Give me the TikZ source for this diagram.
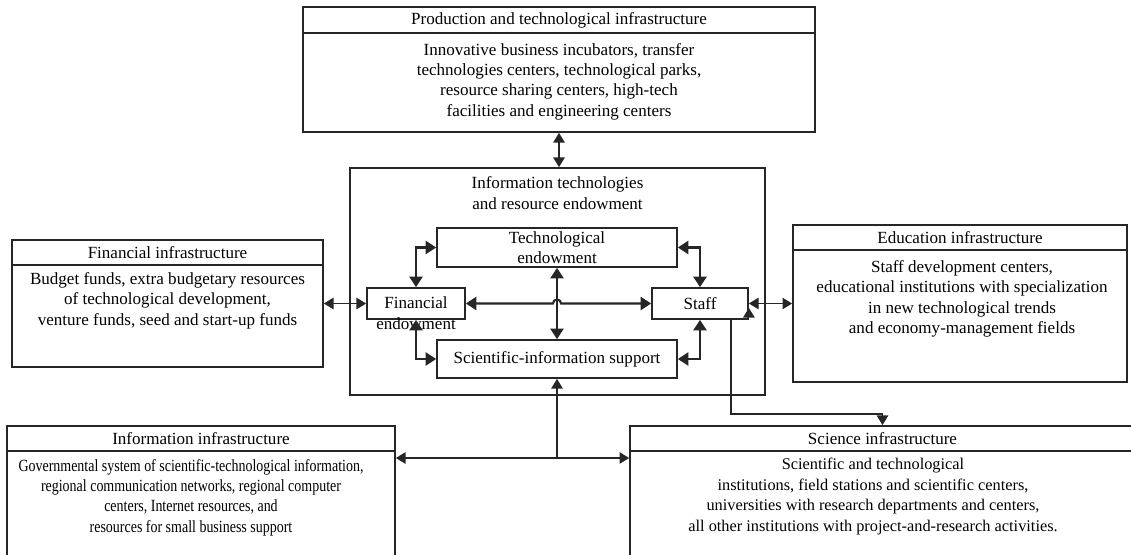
\documentclass[tikz,border=0pt]{standalone}
\usepackage{fontspec}
\setmainfont{Liberation Serif}
\newfontfamily\narrowserif[FakeStretch=0.82]{Liberation Serif}
\usetikzlibrary{arrows.meta}

\begin{document}
\begin{tikzpicture}[x=0.02cm,y=-0.02cm,
    box/.style={draw=black!85,line width=1pt,inner sep=0pt},
    txt/.style={align=center,font=\fontsize{9.7}{11.6}\selectfont},
    sci/.style={align=center,font=\fontsize{9.3}{11.6}\selectfont},
    narrow/.style={align=center,font=\fontsize{9.7}{11.6}\narrowserif},
    link/.style={black!85,line width=0.7pt,{Triangle[length=5.5pt,width=6.5pt]}-{Triangle[length=5.5pt,width=6.5pt]}},
    inlink/.style={black!85,line width=1.2pt,{Triangle[length=6pt,width=7.5pt]}-{Triangle[length=6pt,width=7.5pt]}},
    tolink/.style={black!85,line width=0.7pt,-{Triangle[length=5.5pt,width=6.5pt]}}]
  \useasboundingbox (0,0) rectangle (1131,554);
  % production infrastructure
  \node[box,txt,minimum width=10.24cm,minimum height=0.52cm] (prodt) at (559,20) {Production and technological infrastructure};
  \node[box,minimum width=10.24cm,minimum height=1.98cm] (prodb) at (559,82.5) {};
  \node[txt] (prodx) at (559,81.5) {Innovative business incubators, transfer\\technologies centers, technological parks,\\resource sharing centers, high-tech\\facilities and engineering centers};
  % information technologies and resource endowment
  \node[box,minimum width=8.3cm,minimum height=4.54cm] (itre) at (557.5,281.5) {};
  \node[txt] (itrex) at (557.5,193) {Information technologies\\and resource endowment};
  \node[box,txt,minimum width=4.8cm,minimum height=0.78cm] (tech) at (557,247.5) {Technological\\endowment};
  \node[box,minimum width=1.96cm,minimum height=0.62cm] (fin) at (416,303.5) {};
  \node[txt] (finx) at (416,313) {Financial\\endowment};
  \node[box,txt,minimum width=1.92cm,minimum height=0.62cm] (staff) at (700,303.5) {Staff};
  \node[box,txt,minimum width=4.8cm,minimum height=0.76cm] (scis) at (557,359) {Scientific-information support};
  % financial infrastructure
  \node[box,txt,minimum width=6.22cm,minimum height=0.5cm] (fint) at (167.5,252.5) {Financial infrastructure};
  \node[box,minimum width=6.22cm,minimum height=2.04cm] (finb) at (167.5,316) {};
  \node[txt] (finbx) at (167.5,300.5) {Budget funds, extra budgetary resources\\of technological development,\\venture funds, seed and start-up funds};
  % education infrastructure
  \node[box,txt,minimum width=6.68cm,minimum height=0.5cm] (edut) at (960,237.5) {Education infrastructure};
  \node[box,minimum width=6.68cm,minimum height=2.64cm] (edub) at (960,316) {};
  \node[txt] (edux) at (962,299) {Staff development centers,\\educational institutions with specialization\\in new technological trends\\and economy-management fields};
  % information infrastructure
  \node[box,txt,minimum width=7.76cm,minimum height=0.5cm] (infot) at (201,438.5) {Information infrastructure};
  \node[box,minimum width=7.76cm,minimum height=2.14cm] (infob) at (201,504.5) {};
  \node[narrow] (infox) at (191,497.5) {Governmental system of scientific-technological information,\\regional communication networks, regional computer\\centers, Internet resources, and\\resources for small business support};
  % science infrastructure
  \node[box,txt,minimum width=10.1cm,minimum height=0.5cm] (scit) at (882.5,438.5) {Science infrastructure};
  \node[box,minimum width=10.1cm,minimum height=2.14cm] (scib) at (882.5,504.5) {};
  \node[sci] (scix) at (873,496.5) {Scientific and technological\\institutions, field stations and scientific centers,\\universities with research departments and centers,\\all other institutions with project-and-research activities.};
  % links
  \draw[link] (prodb.south) -- (prodb.south |- itre.north);
  \draw[link] (fin.west -| finb.east) -- (fin.west);
  \draw[link] (staff.east) -- (staff.east -| edub.west);
  \draw[inlink] (fin.north) |- (tech.west);
  \draw[inlink] (fin.south) |- (scis.west);
  \draw[inlink] (tech.east) -| (staff.north);
  \draw[inlink] (scis.east) -| (staff.south);
  \draw[inlink] (tech.south) -- (scis.north);
  \coordinate (hop) at (tech.south |- fin.east);
  \draw[inlink] (fin.east) -- ([xshift=-2.3pt]hop) arc[start angle=180,end angle=0,radius=2.3pt] -- (staff.west);
  \coordinate (joint) at (scis.south |- 0,458);
  \draw[tolink] (joint) -- (scis.south);
  \draw[link] (joint -| infob.east) -- (joint -| scib.west);
  \coordinate (sfoot) at ([xshift=0.62cm]staff.south);
  \draw[tolink] (sfoot) -- (sfoot |- 0,414) -| (scit.north);
  \draw[tolink] (sfoot) -| ([yshift=0.24cm]staff.south east);
\end{tikzpicture}
\end{document}
